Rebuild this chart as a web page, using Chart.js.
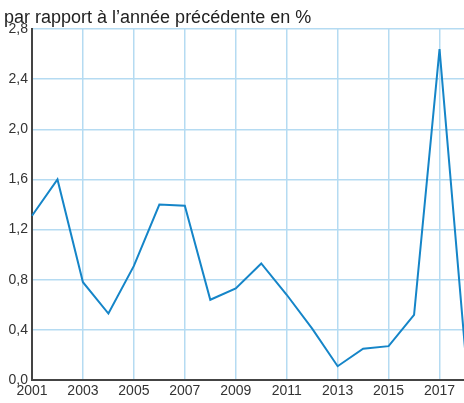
<!DOCTYPE html>
<html>
<head>
<meta charset="utf-8">
<script src="https://cdn.jsdelivr.net/npm/chart.js@4/dist/chart.umd.min.js"></script>
<style>
    html, body { margin: 0; padding: 0; background: #fff; overflow: hidden; }
    #wrap { width: 468px; height: 403px; position: relative; }
</style>
</head>
<body>
<div id="wrap"><canvas id="inflationChart"></canvas></div>
<script>
const years = ['2001', '2002', '2003', '2004', '2005', '2006', '2007', '2008', '2009',
    '2010', '2011', '2012', '2013', '2014', '2015', '2016', '2017', '2018'];
const values = [1.31, 1.60, 0.78, 0.53, 0.91, 1.40, 1.39, 0.64, 0.73,
    0.93, 0.68, 0.41, 0.11, 0.25, 0.27, 0.52, 2.64, 0.25];
const titleText = 'par rapport à l\u2019année précédente en %';

const fontFamily = "'Liberation Sans Narrow', 'Liberation Sans', Arial, sans-serif";

// title drawn in the top-left corner above the plot
const titlePlugin = {
    id: 'cornerTitle',
    afterDraw: function (chart) {
        let ctx = chart.ctx;
        ctx.save();
        ctx.font = '18px ' + fontFamily;
        ctx.fillStyle = '#222';
        ctx.textBaseline = 'alphabetic';
        ctx.textAlign = 'left';
        ctx.fillText(titleText, 4, 23);
        ctx.restore();
    }
};

let ctx = document.getElementById('inflationChart');
let chart = new Chart(ctx, {
    type: 'line',
    data: {
        labels: years,
        datasets: [{
            data: values,
            borderColor: '#1585c8',
            borderWidth: 2,
            pointRadius: 0,
            tension: 0,
            fill: false
        }]
    },
    options: {
        responsive: true,
        maintainAspectRatio: false,
        animation: false,
        layout: {
            padding: { top: 29, left: 0, right: 0, bottom: 0 }
        },
        plugins: {
            legend: { display: false },
            tooltip: { enabled: false }
        },
        scales: {
            x: {
                offset: false,
                border: { color: '#444', width: 2 },
                grid: {
                    drawTicks: false,
                    lineWidth: 1.5,
                    color: function (c) {
                        return c.index % 2 === 0 ? '#b5dbf2' : 'rgba(0,0,0,0)';
                    }
                },
                ticks: {
                    autoSkip: false,
                    maxRotation: 0,
                    padding: 3,
                    color: '#333',
                    font: { family: fontFamily, size: 14 },
                    callback: function (value, index) {
                        return index % 2 === 0 ? this.getLabelForValue(value) : '';
                    }
                },
                afterFit: function (scale) { scale.height = 23; }
            },
            y: {
                min: 0,
                max: 2.8,
                border: { color: '#444', width: 2 },
                grid: { drawTicks: false, color: '#b5dbf2', lineWidth: 1.5 },
                ticks: {
                    stepSize: 0.4,
                    padding: 4,
                    color: '#333',
                    font: { family: fontFamily, size: 14 },
                    callback: function (value) {
                        return value.toFixed(1).replace('.', ',');
                    }
                },
                afterFit: function (scale) { scale.width = 32; }
            }
        }
    },
    plugins: [titlePlugin]
});
</script>
</body>
</html>
